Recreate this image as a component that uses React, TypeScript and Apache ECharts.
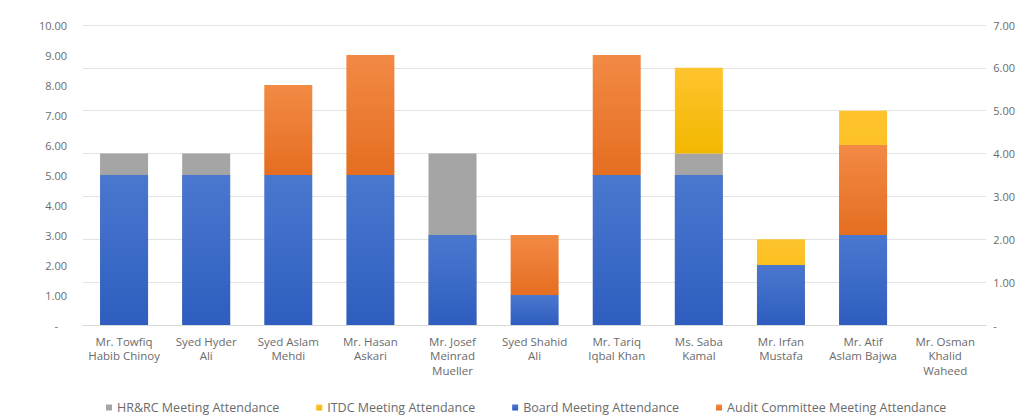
import React, { useEffect, useRef } from "react";
import * as echarts from "echarts";

const categories = [
  "Mr. Towfiq\nHabib Chinoy",
  "Syed Hyder\nAli",
  "Syed Aslam\nMehdi",
  "Mr. Hasan\nAskari",
  "Mr. Josef\nMeinrad\nMueller",
  "Syed Shahid\nAli",
  "Mr. Tariq\nIqbal Khan",
  "Ms. Saba\nKamal",
  "Mr. Irfan\nMustafa",
  "Mr. Atif\nAslam Bajwa",
  "Mr. Osman\nKhalid\nWaheed",
];

// Primary axis (left, 0-10)
const boardAttendance = [5, 5, 5, 5, 3, 1, 5, 5, 2, 3, 0];
const auditAttendance = [0, 0, 3, 4, 0, 2, 4, 0, 0, 3, 0];
// Secondary axis (right, 0-7)
const hrrcAttendance = [4, 4, 0, 0, 4, 0, 0, 4, 0, 0, 0];
const itdcAttendance = [0, 0, 0, 0, 0, 0, 0, 2, 2, 5, 0];

const legendNames = [
  "HR&RC Meeting Attendance",
  "ITDC Meeting Attendance",
  "Board Meeting Attendance",
  "Audit Committee Meeting Attendance",
];

const FONT = "'Open Sans', Lato, sans-serif";
const TEXT = "#6b6b6b";

const grad = (top: string, bottom: string) =>
  new echarts.graphic.LinearGradient(0, 0, 0, 1, [
    { offset: 0, color: top },
    { offset: 1, color: bottom },
  ]);

export default function App() {
  const ref = useRef<HTMLDivElement>(null);

  useEffect(() => {
    if (!ref.current) return;
    const chart = echarts.init(ref.current, undefined, { renderer: "svg" });
    const fmtLeft = (v: number) => (v === 0 ? "{dash|-}" : v.toFixed(2));
    const fmtRight = (v: number) => (v === 0 ? "-" : v.toFixed(2));
    const barW = 48;
    const axisText = { color: TEXT, fontSize: 11, fontFamily: FONT };
    chart.setOption({
      animation: false,
      backgroundColor: "#ffffff",
      textStyle: { fontFamily: FONT },
      grid: { left: 83, right: 30, top: 25, bottom: 92, containLabel: false },
      legend: {
        top: 396,
        left: 101,
        data: legendNames,
        itemWidth: 6,
        itemHeight: 6,
        itemGap: 37,
        icon: "rect",
        textStyle: { color: TEXT, fontSize: 12.5, fontFamily: FONT },
      },
      xAxis: {
        type: "category",
        data: categories,
        axisLine: { show: true, lineStyle: { color: "#d9d9d9", width: 1 } },
        axisTick: { show: false },
        axisLabel: {
          color: TEXT,
          fontSize: 11.5,
          fontFamily: FONT,
          lineHeight: 14.5,
          margin: 9,
          interval: 0,
        },
      },
      yAxis: [
        {
          type: "value",
          min: 0,
          max: 10,
          interval: 1,
          position: "left",
          axisLine: { show: false },
          axisTick: { show: false },
          splitLine: { show: false },
          axisLabel: {
            ...axisText,
            margin: 16,
            formatter: fmtLeft,
            rich: { dash: { ...axisText, padding: [0, 9, 0, 0] } },
          },
        },
        {
          type: "value",
          min: 0,
          max: 7,
          interval: 1,
          position: "right",
          axisLine: { show: false },
          axisTick: { show: false },
          splitLine: { show: true, lineStyle: { color: "#e3e3e3", width: 1 } },
          axisLabel: { ...axisText, margin: 7, formatter: fmtRight },
        },
      ],
      series: [
        {
          name: legendNames[0],
          type: "bar",
          stack: "secondary",
          yAxisIndex: 1,
          data: hrrcAttendance,
          barWidth: barW,
          barGap: "-100%",
          z: 2,
          itemStyle: { color: "#a5a5a5" },
        },
        {
          name: legendNames[1],
          type: "bar",
          stack: "secondary",
          yAxisIndex: 1,
          data: itdcAttendance,
          barWidth: barW,
          barGap: "-100%",
          z: 2,
          itemStyle: { color: grad("#ffc42e", "#f2b800") },
        },
        {
          name: legendNames[2],
          type: "bar",
          stack: "primary",
          yAxisIndex: 0,
          data: boardAttendance,
          barWidth: barW,
          barGap: "-100%",
          z: 3,
          itemStyle: { color: grad("#4a78cf", "#2f5dbf") },
        },
        {
          name: legendNames[3],
          type: "bar",
          stack: "primary",
          yAxisIndex: 0,
          data: auditAttendance,
          barWidth: barW,
          barGap: "-100%",
          z: 3,
          itemStyle: { color: grad("#f28a45", "#e56e21") },
        },
      ],
    });
    return () => chart.dispose();
  }, []);

  return (
    <div
      style={{
        position: "fixed",
        left: 0,
        top: 0,
        width: 1018,
        height: 417,
        overflow: "hidden",
        background: "#fff",
      }}
    >
      <div ref={ref} style={{ width: 1018, height: 417 }} />
    </div>
  );
}
